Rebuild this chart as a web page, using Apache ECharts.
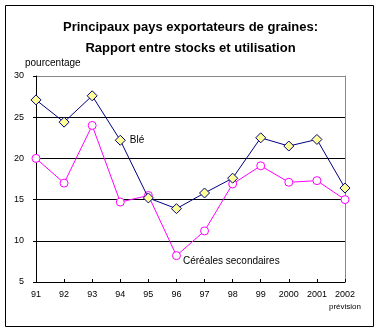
<!DOCTYPE html>
<html>
<head>
<meta charset="utf-8">
<script src="https://cdn.jsdelivr.net/npm/echarts@6/dist/echarts.min.js"></script>
<style>
  html, body { margin: 0; padding: 0; background: #fff; }
  #chart { width: 381px; height: 332px; }
</style>
</head>
<body>
<div id="chart"></div>
<script>
// Years of the series (2002 is a forecast)
const years = ['91', '92', '93', '94', '95', '96', '97', '98', '99', '2000', '2001', '2002'];
// Stocks-to-use ratio, percent
const ble = [27.1, 24.4, 27.6, 22.2, 15.2, 13.9, 15.8, 17.6, 22.5, 21.5, 22.3, 16.4];
const cerealesSecondaires = [20.0, 17.0, 24.0, 14.7, 15.5, 8.2, 11.2, 16.9, 19.1, 17.1, 17.3, 15.0];
const yTicks = [5, 10, 15, 20, 25, 30];

const chart = echarts.init(document.getElementById('chart'), null, { renderer: 'canvas' });
const font = 'Liberation Sans, Arial, sans-serif';

chart.setOption({
  animation: false,
  backgroundColor: '#fff',
  title: {
    text: 'Principaux pays exportateurs de graines:\nRapport entre stocks et utilisation',
    left: 'center',
    top: 12,
    textStyle: { fontFamily: font, fontSize: 13, fontWeight: 'bold', color: '#000', lineHeight: 21 }
  },
  graphic: [
    { type: 'rect', shape: { x: 5.5, y: 5.5, width: 368, height: 321 }, style: { fill: null, stroke: '#000', lineWidth: 1 }, z: -1 },
    { type: 'text', left: 25, top: 58, style: { text: 'pourcentage', font: '10px ' + font, fill: '#000' } }
  ],
  grid: { left: 36, right: 36, top: 76, bottom: 50 },
  xAxis: {
    type: 'category',
    data: years,
    boundaryGap: false,
    axisLine: { lineStyle: { color: '#000', width: 1 } },
    axisTick: { inside: true, length: 3, interval: 0, lineStyle: { color: '#000' } },
    axisLabel: {
      interval: 0,
      fontFamily: font, fontSize: 9, color: '#000', margin: 8,
      formatter: v => v === '2002' ? '2002\n{s|prévision}' : v,
      rich: { s: { fontFamily: font, fontSize: 8, color: '#000', padding: [4, 0, 0, 0] } }
    },
    splitLine: { show: false }
  },
  yAxis: [
    {
      type: 'value',
      min: yTicks[0],
      max: yTicks[yTicks.length - 1],
      interval: 5,
      axisLine: { show: true, lineStyle: { color: '#000' } },
      axisTick: { show: true, length: 3, lineStyle: { color: '#000' } },
      axisLabel: { fontFamily: font, fontSize: 9, color: '#000', margin: 12 },
      splitLine: { show: true, lineStyle: { color: ['#000', '#000', '#000', '#000', '#000', '#888'], width: 1 } }
    },
    {
      type: 'value',
      position: 'right',
      min: yTicks[0],
      max: yTicks[yTicks.length - 1],
      axisLine: { show: true, lineStyle: { color: '#888' } },
      axisTick: { show: false },
      axisLabel: { show: false },
      splitLine: { show: false }
    }
  ],
  series: [
    {
      name: 'Blé',
      type: 'line',
      data: ble.map((v, i) => i === 3
        ? { value: v, label: { show: true, position: 'right', distance: 4, formatter: 'Blé' } }
        : v),
      symbol: 'diamond',
      symbolSize: 10,
      lineStyle: { color: '#000080', width: 1 },
      itemStyle: { color: '#ffff99', borderColor: '#000080', borderWidth: 1 },
      label: { show: false, fontFamily: font, fontSize: 10, color: '#000' },
      z: 3
    },
    {
      name: 'Céréales secondaires',
      type: 'line',
      data: cerealesSecondaires.map((v, i) => i === 5
        ? { value: v, label: { show: true, position: 'right', distance: 2, offset: [0, 6], formatter: 'Céréales secondaires' } }
        : v),
      symbol: 'circle',
      symbolSize: 8,
      lineStyle: { color: '#ff00ff', width: 1 },
      itemStyle: { color: '#fff', borderColor: '#ff00ff', borderWidth: 1 },
      label: { show: false, fontFamily: font, fontSize: 10, color: '#000' },
      z: 2
    }
  ]
});
</script>
</body>
</html>
